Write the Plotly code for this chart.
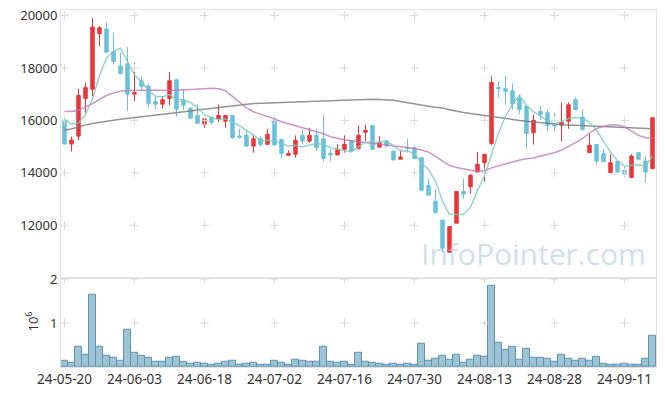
import plotly.graph_objects as go
from plotly.subplots import make_subplots

dates = [
    "24-05-20", "24-05-21", "24-05-22", "24-05-23", "24-05-24", "24-05-27", "24-05-28", "24-05-29", "24-05-30", "24-05-31",
    "24-06-03", "24-06-04", "24-06-05", "24-06-07", "24-06-10", "24-06-11", "24-06-12", "24-06-13", "24-06-14", "24-06-17",
    "24-06-18", "24-06-19", "24-06-20", "24-06-21", "24-06-24", "24-06-25", "24-06-26", "24-06-27", "24-06-28", "24-07-01",
    "24-07-02", "24-07-03", "24-07-04", "24-07-05", "24-07-08", "24-07-09", "24-07-10", "24-07-11", "24-07-12", "24-07-15",
    "24-07-16", "24-07-17", "24-07-18", "24-07-19", "24-07-22", "24-07-23", "24-07-24", "24-07-25", "24-07-26", "24-07-29",
    "24-07-30", "24-07-31", "24-08-01", "24-08-02", "24-08-05", "24-08-06", "24-08-07", "24-08-08", "24-08-09", "24-08-12",
    "24-08-13", "24-08-14", "24-08-16", "24-08-19", "24-08-20", "24-08-21", "24-08-22", "24-08-23", "24-08-26", "24-08-27",
    "24-08-28", "24-08-29", "24-08-30", "24-09-02", "24-09-03", "24-09-04", "24-09-05", "24-09-06", "24-09-09", "24-09-10",
    "24-09-11", "24-09-12", "24-09-13", "24-09-19", "24-09-20",
]

open_ = [15960, 15100, 15400, 16840, 17190, 19310, 19490, 18630, 18080, 18160,
         17000, 17510, 17310, 16720, 16620, 16840, 17550, 16770, 16460, 16190,
         15860, 16120, 16060, 15970, 16190, 15400, 15430, 15020, 15300, 15090,
         16010, 15270, 14670, 14710, 15430, 15210, 15430, 15300, 14740, 14680,
         14900, 15240, 14920, 15550, 15810, 14980, 15210, 14830, 14520, 14960,
         14960, 14580, 13530, 12920, 12200, 10970, 12080, 13290, 13470, 14030,
         14390, 15120, 17250, 17210, 17130, 16830, 16540, 15530, 16340, 16290,
         15870, 15820, 15970, 16790, 16130, 14770, 15080, 14730, 14010, 14430,
         14100, 13820, 14770, 14450, 14160]
high = [16090, 15380, 17210, 17440, 19910, 19590, 19740, 19340, 18590, 18790,
        18200, 17690, 17400, 16930, 16930, 17840, 17590, 17200, 16510, 16620,
        16060, 16120, 16600, 16190, 16190, 15680, 15650, 15460, 15400, 15680,
        16190, 15270, 14860, 15430, 15650, 15720, 15680, 16220, 14900, 15090,
        15430, 15240, 15810, 15840, 15810, 15400, 15270, 14830, 14870, 15300,
        15020, 14580, 13780, 13380, 12200, 11950, 13290, 13780, 13950, 14790,
        14710, 17680, 17490, 17700, 17400, 16980, 16540, 16220, 16540, 16410,
        16290, 16670, 16690, 16890, 16410, 15500, 15080, 14900, 14710, 14430,
        14260, 14710, 14770, 14640, 16100]
low = [15090, 14810, 15250, 16290, 16930, 18830, 18600, 18130, 17790, 16360,
       16740, 17120, 16490, 16430, 16450, 16580, 16140, 16400, 16080, 15890,
       15710, 15840, 15930, 15720, 15300, 15310, 14980, 14770, 15000, 15080,
       15060, 14580, 14670, 14580, 15080, 15150, 14830, 14430, 14430, 14680,
       14770, 14830, 14900, 15210, 14870, 14980, 15000, 14490, 14520, 14770,
       14540, 13310, 13150, 12430, 10970, 10970, 12080, 13000, 13210, 14030,
       13660, 15050, 16860, 16600, 16410, 16250, 14920, 15080, 16030, 15590,
       15590, 15210, 15680, 16410, 15630, 14770, 14330, 14430, 14010, 14010,
       13820, 13820, 14520, 13630, 14160]
close = [15100, 15250, 16950, 17250, 19560, 19530, 18600, 18250, 17790, 17000,
         17060, 17300, 16650, 16620, 16790, 17510, 16430, 16580, 16080, 15890,
         16060, 15930, 16190, 16190, 15340, 15350, 15020, 15300, 15080, 15470,
         15060, 14740, 14740, 15240, 15210, 15430, 14960, 14550, 14680, 14900,
         15090, 14830, 15430, 15620, 14900, 15150, 15020, 14490, 14600, 14940,
         14540, 13340, 13150, 12490, 11130, 11950, 13290, 13190, 13910, 14330,
         14710, 17450, 17210, 17110, 16630, 16410, 15500, 16000, 16220, 15810,
         15790, 15930, 16600, 16410, 15650, 15050, 14450, 14430, 14390, 14030,
         13950, 14640, 14520, 14030, 16100]

ma5 = [16040, 15860, 15910, 16220, 16820, 17710, 18380, 18640, 18750, 18230,
       17740, 17480, 17160, 16920, 16890, 16980, 16800, 16790, 16680, 16500,
       16210, 16110, 16030, 16050, 15940, 15800, 15620, 15440, 15220, 15240,
       15190, 15130, 15020, 15050, 15000, 15070, 15120, 15080, 14970, 14900,
       14840, 14810, 14980, 15170, 15170, 15180, 15220, 15040, 14830, 14840,
       14720, 14380, 14120, 13690, 12930, 12410, 12400, 12410, 12690, 13330,
       13880, 14720, 15520, 16160, 16620, 16960, 16570, 16330, 16150, 15990,
       15870, 15950, 16070, 16110, 16080, 15930, 15630, 15200, 14790, 14470,
       14250, 14290, 14310, 14240, 14650]
ma20 = [16340, 16340, 16390, 16510, 16640, 16800, 16950, 17050, 17110, 17140,
        17150, 17150, 17150, 17150, 17140, 17140, 17150, 17160, 17170, 17190,
        17210, 17230, 17210, 17130, 16920, 16690, 16480, 16330, 16250, 16160,
        16060, 15950, 15870, 15810, 15740, 15650, 15570, 15490, 15380, 15310,
        15260, 15220, 15180, 15150, 15120, 15100, 15070, 15050, 15020, 14970,
        14920, 14870, 14790, 14640, 14450, 14290, 14200, 14140, 14100, 14070,
        14080, 14190, 14270, 14350, 14430, 14490, 14540, 14570, 14640, 14700,
        14770, 14870, 15000, 15150, 15310, 15520, 15690, 15780, 15820, 15820,
        15750, 15600, 15430, 15340, 15310]
ma60 = [15630, 15670, 15750, 15830, 15880, 15930, 15970, 16010, 16040, 16070,
        16100, 16130, 16160, 16190, 16220, 16250, 16280, 16320, 16360, 16400,
        16430, 16470, 16500, 16530, 16570, 16600, 16620, 16640, 16655, 16665,
        16680, 16690, 16700, 16710, 16720, 16730, 16740, 16750, 16760, 16770,
        16775, 16785, 16795, 16805, 16810, 16800, 16785, 16765, 16720, 16670,
        16620, 16580, 16540, 16500, 16470, 16410, 16350, 16300, 16260, 16220,
        16170, 16135, 16100, 16060, 16030, 16000, 15970, 15940, 15910, 15870,
        15845, 15835, 15825, 15815, 15805, 15785, 15770, 15755, 15745, 15735,
        15720, 15710, 15700, 15695, 15685]

volume_m = [0.15, 0.10, 0.46, 0.29, 1.65, 0.46, 0.26, 0.20, 0.15, 0.85,
            0.33, 0.26, 0.20, 0.11, 0.11, 0.22, 0.24, 0.13, 0.08, 0.10,
            0.08, 0.06, 0.08, 0.13, 0.15, 0.04, 0.08, 0.10, 0.04, 0.06,
            0.15, 0.10, 0.06, 0.17, 0.15, 0.13, 0.13, 0.46, 0.13, 0.10,
            0.12, 0.06, 0.32, 0.13, 0.10, 0.08, 0.05, 0.08, 0.05, 0.08,
            0.05, 0.53, 0.14, 0.19, 0.26, 0.17, 0.28, 0.10, 0.17, 0.26,
            0.23, 1.84, 0.55, 0.39, 0.46, 0.17, 0.42, 0.21, 0.21, 0.19,
            0.12, 0.28, 0.19, 0.14, 0.19, 0.14, 0.23, 0.08, 0.05, 0.05,
            0.08, 0.05, 0.05, 0.19, 0.71]

price_ticks = [12000, 14000, 16000, 18000, 20000]
volume_ticks = [1, 2]
tick_step = 10

idx = list(range(len(dates)))
xtick_idx = idx[::tick_step]
xtick_text = [dates[i] for i in xtick_idx]

UP = "#ea3539"
DOWN = "#6bc1db"
GRID = "#d9d9d9"
BORDER = "#e3e3e3"
FONT = "Noto Sans"

fig = make_subplots(rows=2, cols=1, shared_xaxes=True, vertical_spacing=0.0,
                    row_heights=[0.75, 0.25])

# grid crosses at tick intersections
cx = [x for x in xtick_idx for _ in price_ticks]
cy = [y for _ in xtick_idx for y in price_ticks]
fig.add_trace(go.Scatter(x=cx, y=cy, mode="markers", hoverinfo="skip",
                         marker=dict(symbol="cross-thin", size=6,
                                     line=dict(color=GRID, width=1)),
                         showlegend=False), row=1, col=1)
cx2 = [x for x in xtick_idx for _ in volume_ticks]
cy2 = [y for _ in xtick_idx for y in volume_ticks]
fig.add_trace(go.Scatter(x=cx2, y=cy2, mode="markers", hoverinfo="skip",
                         marker=dict(symbol="cross-thin", size=6,
                                     line=dict(color=GRID, width=1)),
                         showlegend=False), row=2, col=1)

fig.add_trace(go.Candlestick(
    x=idx, open=open_, high=high, low=low, close=close,
    increasing=dict(line=dict(color=UP, width=1), fillcolor=UP),
    decreasing=dict(line=dict(color=DOWN, width=1), fillcolor=DOWN),
    whiskerwidth=0, showlegend=False), row=1, col=1)

fig.add_trace(go.Scatter(x=idx, y=ma60, mode="lines",
                         line=dict(color="rgba(120,120,120,0.8)", width=1.5),
                         showlegend=False), row=1, col=1)
fig.add_trace(go.Scatter(x=idx, y=ma20, mode="lines",
                         line=dict(color="rgba(190,120,185,0.8)", width=1.5),
                         showlegend=False), row=1, col=1)
fig.add_trace(go.Scatter(x=idx, y=ma5, mode="lines",
                         line=dict(color="rgba(125,200,188,0.8)", width=1.5),
                         showlegend=False), row=1, col=1)

fig.add_trace(go.Bar(x=idx, y=volume_m, width=1.0,
                     marker=dict(color="rgba(140,184,204,0.85)",
                                 line=dict(color="#5d93ac", width=1)),
                     showlegend=False), row=2, col=1)

axis_common = dict(showgrid=False, zeroline=False, showline=True, linecolor=BORDER,
                   linewidth=1, mirror=True, ticks="", automargin=False,
                   tickfont=dict(family=FONT, size=13, color="#333333"))

fig.update_xaxes(**axis_common, range=[-0.5, 84.5], tickvals=xtick_idx,
                 ticktext=xtick_text, rangeslider_visible=False)
fig.update_xaxes(showticklabels=False, row=1, col=1)
fig.update_xaxes(tickfont=dict(size=13.5), row=2, col=1)
fig.update_yaxes(**axis_common, tickformat="d")
fig.update_yaxes(range=[10000, 20210], tickvals=price_ticks, row=1, col=1)
fig.update_yaxes(range=[0, 2.03], tickvals=volume_ticks, row=2, col=1)

fig.add_annotation(text="10<sup>6</sup>", xref="paper", yref="paper",
                   x=-0.049, y=0.127, xanchor="center", yanchor="middle",
                   textangle=-90, showarrow=False,
                   font=dict(family=FONT, size=13, color="#333333"))

fig.add_annotation(text="InfoPointer.com", xref="paper", yref="paper",
                   x=0.986, y=0.317, xanchor="right", yanchor="middle",
                   showarrow=False,
                   font=dict(family="Open Sans", size=30, color="rgba(175,203,220,0.6)"))

fig.update_layout(width=665, height=396, margin=dict(l=61, r=9, t=10, b=29),
                  paper_bgcolor="white", plot_bgcolor="white", bargap=0,
                  hovermode=False,
                  font=dict(family=FONT, size=13, color="#333333"))

fig.write_html("out.html", config={"displayModeBar": False},
               post_script="document.body.style.margin='0';")
